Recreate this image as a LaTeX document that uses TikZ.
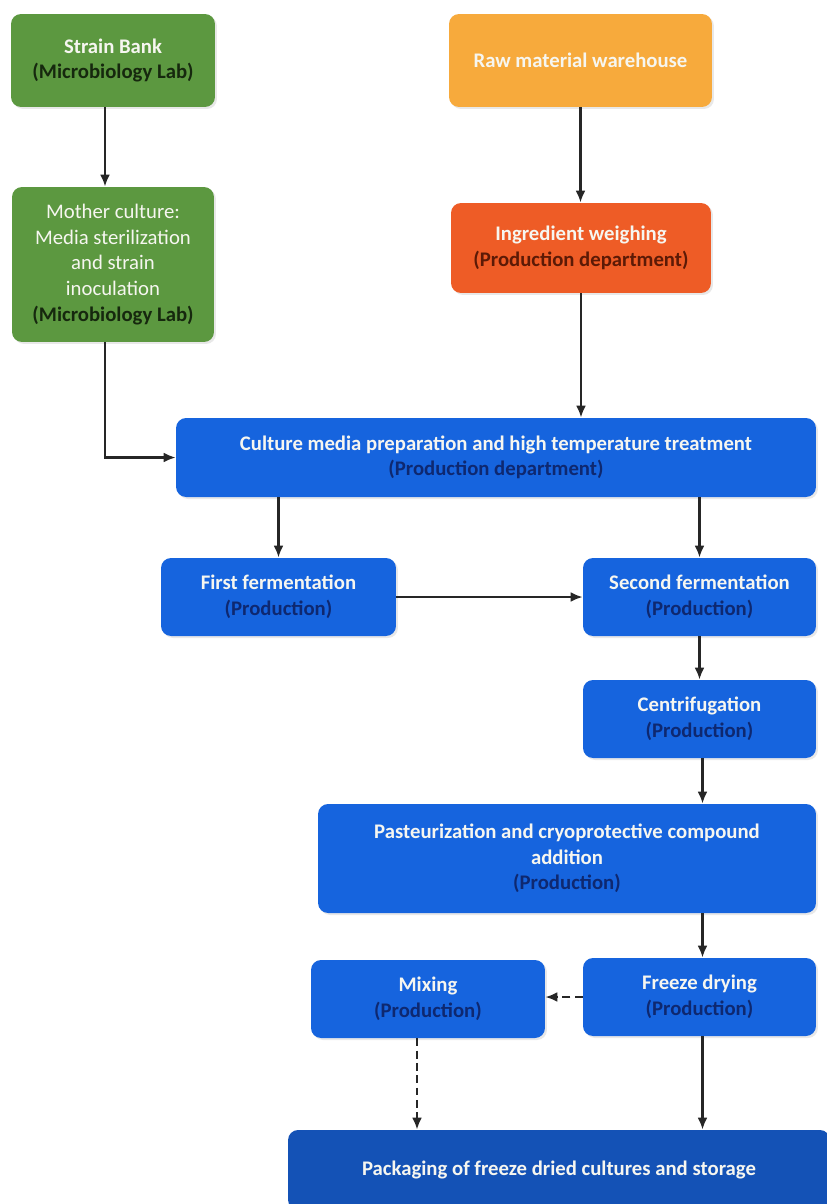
\documentclass[tikz,border=0pt]{standalone}
\usepackage{fontspec}
\setmainfont{Carlito}
\usetikzlibrary{arrows.meta,shadows}
\definecolor{cgreen}{RGB}{92,152,64}
\definecolor{corange}{RGB}{247,170,60}
\definecolor{cred}{RGB}{238,92,38}
\definecolor{cblue}{RGB}{22,100,222}
\definecolor{cdblue}{RGB}{20,82,182}
\definecolor{tblue}{RGB}{14,40,112}
\definecolor{tgreen}{RGB}{22,40,14}
\definecolor{tred}{RGB}{92,26,6}
\definecolor{twhite}{RGB}{246,246,240}
\tikzset{
  box/.style={rectangle, rounded corners=0.2cm, draw=none, align=center,
    text=twhite, font=\fontsize{11.8}{14.6}\selectfont\bfseries,
    inner sep=2pt, drop shadow={shadow xshift=0.04cm, shadow yshift=-0.04cm, opacity=0.18}},
  arr/.style={-{Latex[length=2.4mm,width=2mm]}, line width=1.4pt, black!85},
  darr/.style={arr, dashed, dash pattern=on 4.5pt off 2.5pt}
}
\begin{document}
\begin{tikzpicture}[x=0.02cm,y=-0.02cm]
\useasboundingbox (0,0) rectangle (826,1204);
\node[box, fill=cgreen, minimum width=4.08cm, minimum height=1.86cm] (strain) at (113,60.5)
  {Strain Bank\\\textcolor{tgreen}{(Microbiology Lab)}};
\node[box, fill=cgreen, minimum width=4.04cm, minimum height=3.1cm, font=\fontsize{11.8}{14.6}\selectfont] (mother) at (113,264.5)
  {Mother culture:\\Media sterilization\\and strain\\inoculation\\\textcolor{tgreen}{\bfseries(Microbiology Lab)}};
\node[box, fill=corange, minimum width=5.26cm, minimum height=1.86cm] (raw) at (580.5,60.5)
  {Raw material warehouse};
\node[box, fill=cred, minimum width=5.2cm, minimum height=1.8cm] (ingr) at (581,248)
  {Ingredient weighing\\\textcolor{tred}{(Production department)}};
\node[box, fill=cblue, minimum width=12.8cm, minimum height=1.58cm] (culture) at (496,457.5)
  {Culture media preparation and high temperature treatment\\\textcolor{tblue}{(Production department)}};
\node[box, fill=cblue, minimum width=4.7cm, minimum height=1.56cm] (first) at (278.5,597)
  {First fermentation\\\textcolor{tblue}{(Production)}};
\node[box, fill=cblue, minimum width=4.66cm, minimum height=1.56cm] (second) at (699.5,597)
  {Second fermentation\\\textcolor{tblue}{(Production)}};
\node[box, fill=cblue, minimum width=4.66cm, minimum height=1.56cm] (centrif) at (699.5,719)
  {Centrifugation\\\textcolor{tblue}{(Production)}};
\node[box, fill=cblue, minimum width=9.96cm, minimum height=2.18cm] (past) at (567,858.5)
  {Pasteurization and cryoprotective compound\\addition\\\textcolor{tblue}{(Production)}};
\node[box, fill=cblue, minimum width=4.68cm, minimum height=1.56cm] (mixing) at (428,999)
  {Mixing\\\textcolor{tblue}{(Production)}};
\node[box, fill=cblue, minimum width=4.66cm, minimum height=1.56cm] (freeze) at (699.5,997)
  {Freeze drying\\\textcolor{tblue}{(Production)}};
\node[box, fill=cdblue, minimum width=10.84cm, minimum height=1.6cm] (pack) at (559,1170)
  {Packaging of freeze dried cultures and storage};

\draw[arr] ([xshift=-0.16cm]strain.south) -- ([xshift=-0.16cm]mother.north);
\draw[arr] ([xshift=-0.16cm]mother.south) |- (culture.west);
\draw[arr] (raw.south) -- (raw.south |- ingr.north);
\draw[arr] (ingr.south) -- (ingr.south |- culture.north);
\draw[arr] (first.north |- culture.south) -- (first.north);
\draw[arr] (second.north |- culture.south) -- (second.north);
\draw[arr] (first.east) -- (first.east -| second.west);
\draw[arr] (second.south) -- (centrif.north);
\draw[arr] ([xshift=0.06cm]centrif.south) -- ([xshift=0.06cm]centrif.south |- past.north);
\draw[arr] ([xshift=0.06cm]freeze.north |- past.south) -- ([xshift=0.06cm]freeze.north);
\draw[darr] (freeze.west) -- (freeze.west -| mixing.east);
\draw[darr] ([xshift=-0.22cm]mixing.south) -- ([xshift=-0.22cm]mixing.south |- pack.north);
\draw[arr] ([xshift=0.06cm]freeze.south) -- ([xshift=0.06cm]freeze.south |- pack.north);
\end{tikzpicture}
\end{document}
